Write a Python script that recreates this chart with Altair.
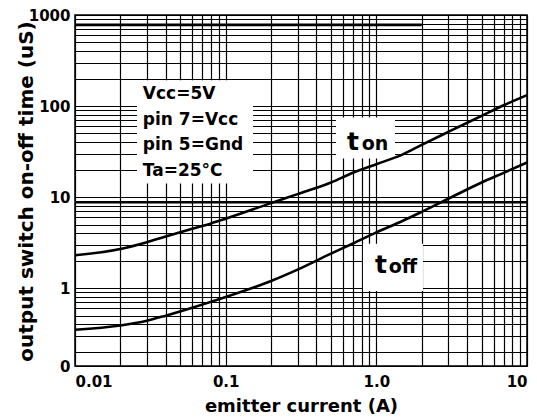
import altair as alt
import pandas as pd

# ---- data ----
current = [0.01, 0.02, 0.03, 0.04, 0.06, 0.08, 0.1, 0.2, 0.3, 0.5, 0.7, 1.0, 1.5, 2, 3, 5, 7, 10]
t_on = [2.3, 2.7, 3.2, 3.7, 4.5, 5.15, 5.8, 8.6, 10.8, 14.5, 18.5, 23, 29.5, 37.5, 52, 78, 102, 132]
t_off = [0.35, 0.39, 0.44, 0.50, 0.61, 0.71, 0.80, 1.2, 1.6, 2.4, 3.1, 4.1, 5.5, 6.9, 9.6, 14.5, 18.5, 24]

x_grid = [0.01, 0.02, 0.03, 0.04, 0.05, 0.06, 0.07, 0.08, 0.09,
          0.1, 0.2, 0.3, 0.4, 0.5, 0.6, 0.7, 0.8, 0.9,
          1, 2, 3, 4, 5, 6, 7, 8, 9, 10]
x_major = [0.01, 0.1, 1, 10]
x_major_labels = ["0.01", "0.1", "1.0", "10"]

y_grid = [0.14, 0.2, 0.3, 0.4, 0.5, 0.6, 0.7, 0.8, 0.9,
          1, 2, 3, 4, 5, 6, 7, 8, 9,
          10, 20, 30, 40, 50, 60, 70, 80, 90,
          100, 200, 300, 400, 500, 600, 700, 800, 900, 1000]
y_major = [0.14, 1, 10, 100, 1000]
y_major_labels = ["0", "1", "10", "100", "1000"]

# heavy (scanned) grid lines
heavy_y = [8.8, 780]
heavy_x1 = [0.01, 0.01]
heavy_x2 = [10, 2.0]

# white label boxes (data coordinates)
box_x1 = [0.0258, 0.54, 0.815]
box_x2 = [0.152, 1.33, 2.04]
box_y1 = [14.1, 26.6, 0.935]
box_y2 = [192, 75, 3.08]

note_lines = ["Vcc=5V", "pin 7=Vcc", "pin 5=Gnd", "Ta=25°C"]
note_x = [0.0282, 0.0282, 0.0282, 0.0282]
note_y = [135, 69.8, 37.0, 19.6]

curve_label_text = ["t", "on", "t", "off"]
curve_label_x = [0.638, 0.80, 0.98, 1.21]
curve_label_y = [32.6, 32.6, 1.48, 1.48]
curve_label_size = [25, 19, 25, 19]

FONT = "DejaVu Sans"


def label_expr(vals, labels):
    return "".join(f"datum.value == {v} ? '{l}' : " for v, l in zip(vals, labels)) + "''"


curves = pd.DataFrame({
    "current": current * 2,
    "time": t_on + t_off,
    "series": ["on"] * len(current) + ["off"] * len(current),
})
heavy = pd.DataFrame({"y": heavy_y, "x1": heavy_x1, "x2": heavy_x2})
boxes = pd.DataFrame({"x1": box_x1, "x2": box_x2, "y1": box_y1, "y2": box_y2})
notes = pd.DataFrame({"text": note_lines, "x": note_x, "y": note_y})
clabels = pd.DataFrame({"text": curve_label_text, "x": curve_label_x,
                        "y": curve_label_y, "fs": curve_label_size})

xscale = alt.Scale(type="log", domain=[0.01, 10], nice=False)
yscale = alt.Scale(type="log", domain=[0.14, 1000], nice=False)

x_axis = alt.Axis(
    values=x_grid, labelExpr=label_expr(x_major, x_major_labels),
    grid=True, gridColor="black", gridWidth=1.2, gridOpacity=1,
    ticks=False, domain=False, labelFlush=True, labelOverlap=False,
    labelFont=FONT, labelFontWeight="bold", labelFontSize=15, labelColor="black",
    labelPadding=8,
    title="emitter current (A)", titleFont=FONT, titleFontSize=18,
    titleFontWeight="bold", titleColor="black",
    titleX=226, titleY=45, titleAlign="center", titleBaseline="alphabetic",
)
y_axis = alt.Axis(
    values=y_grid, labelExpr=label_expr(y_major, y_major_labels),
    grid=True, gridColor="black", gridWidth=1.2, gridOpacity=1,
    ticks=False, domain=False, labelOverlap=False,
    labelFont=FONT, labelFontWeight="bold", labelFontSize=15, labelColor="black",
    labelPadding=5,
    title="output switch on-off time (uS)", titleFont=FONT, titleFontSize=20,
    titleFontWeight="bold", titleColor="black",
    titleX=-43, titleY=176, titleAngle=-90, titleAlign="center",
    titleBaseline="alphabetic",
)

lines = alt.Chart(curves).mark_line(
    color="black", strokeWidth=2.6, interpolate="monotone", clip=True
).encode(
    x=alt.X("current:Q", scale=xscale, axis=x_axis),
    y=alt.Y("time:Q", scale=yscale, axis=y_axis),
    detail="series:N",
)

heavy_rules = alt.Chart(heavy).mark_rule(color="black", strokeWidth=2.6).encode(
    y=alt.Y("y:Q", scale=yscale),
    x=alt.X("x1:Q", scale=xscale),
    x2="x2:Q",
)

box_rects = alt.Chart(boxes).mark_rect(color="white", opacity=1).encode(
    x=alt.X("x1:Q", scale=xscale), x2="x2:Q",
    y=alt.Y("y1:Q", scale=yscale), y2="y2:Q",
)

note_text = alt.Chart(notes).mark_text(
    align="left", baseline="middle", font=FONT, fontSize=17,
    fontWeight="bold", color="black",
).encode(
    x=alt.X("x:Q", scale=xscale), y=alt.Y("y:Q", scale=yscale), text="text:N"
)

curve_text = alt.Chart(clabels).mark_text(
    align="left", baseline="alphabetic", font=FONT,
    fontWeight="bold", color="black",
).encode(
    x=alt.X("x:Q", scale=xscale), y=alt.Y("y:Q", scale=yscale), text="text:N",
    size=alt.Size("fs:Q", scale=None, legend=None),
)

chart = alt.layer(heavy_rules, box_rects, lines, note_text, curve_text).properties(
    width=452, height=351,
    autosize=alt.AutoSizeParams(type="none"),
    padding={"left": 67, "top": 7, "right": 2, "bottom": 51},
    background="white",
).configure_view(stroke="black", strokeWidth=1.5)

chart.save("out.html", embed_options={"renderer": "svg", "actions": False})
